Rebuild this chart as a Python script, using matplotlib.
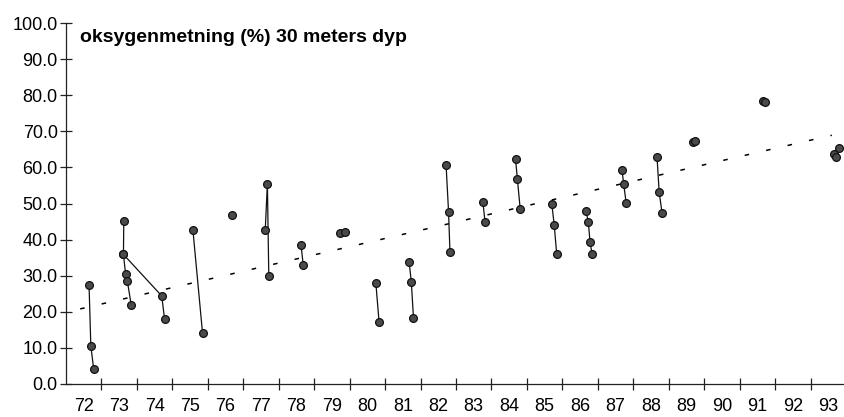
import matplotlib
matplotlib.use("Agg")
import matplotlib.pyplot as plt
from matplotlib.ticker import FixedLocator, FixedFormatter

plt.rcParams['font.family'] = ['Liberation Sans', 'DejaVu Sans']

# ---- data: each series is a connected group of measurements (fractional year, %)
x72 = [72.65, 72.70, 72.78];               y72 = [27.5, 10.6, 4.2]
x73 = [73.63, 73.62, 73.68, 73.73, 73.84]; y73 = [45.2, 35.9, 30.5, 28.5, 21.9]
x74 = [73.62, 74.70, 74.78];               y74 = [35.9, 24.4, 18.0]
x75 = [75.58, 75.85];                      y75 = [42.6, 14.2]
x76 = [76.67];                             y76 = [46.7]
x77 = [77.62, 77.68, 77.72];               y77 = [42.7, 55.5, 29.8]
x78 = [78.63, 78.69];                      y78 = [38.5, 33.0]
x79 = [79.72, 79.86];                      y79 = [41.7, 42.0]
x80 = [80.74, 80.83];                      y80 = [27.9, 17.2]
x81 = [81.68, 81.74, 81.80];               y81 = [33.7, 28.2, 18.4]
x82 = [82.72, 82.79, 82.83];               y82 = [60.7, 47.7, 36.5]
x83 = [83.76, 83.82];                      y83 = [50.3, 44.8]
x84 = [84.68, 84.73, 84.81];               y84 = [62.2, 56.9, 48.6]
x85 = [85.70, 85.77, 85.84];               y85 = [50.0, 44.1, 36.0]
x86 = [86.67, 86.73, 86.78, 86.84];        y86 = [47.8, 45.0, 39.4, 35.9]
x87 = [87.68, 87.73, 87.80];               y87 = [59.4, 55.4, 50.1]
x88 = [88.67, 88.73, 88.81];               y88 = [62.9, 53.2, 47.5]
x89 = [89.69, 89.74];                      y89 = [67.0, 67.3]
x91 = [91.65, 91.72];                      y91 = [78.3, 78.1]
x93 = [93.65, 93.72, 93.80];               y93 = [63.6, 62.9, 65.4]

trend_x = [72.4, 93.6]
trend_y = [20.8, 68.9]

year_labels = [str(y) for y in range(72, 94)]
y_ticks = [0, 10, 20, 30, 40, 50, 60, 70, 80, 90, 100]

title = "oksygenmetning (%) 30 meters dyp"

series = [(x72, y72), (x73, y73), (x74, y74), (x75, y75), (x76, y76), (x77, y77),
          (x78, y78), (x79, y79), (x80, y80), (x81, y81), (x82, y82), (x83, y83),
          (x84, y84), (x85, y85), (x86, y86), (x87, y87), (x88, y88), (x89, y89),
          (x91, y91), (x93, y93)]

fig = plt.figure(figsize=(8.45, 4.17), dpi=100)
ax = fig.add_axes([66 / 845, 33 / 417, 780 / 845, 361 / 417])
ax.set_xlim(72, 94)
ax.set_ylim(0, 100)

ax.plot(trend_x, trend_y, color='black', lw=1.1, linestyle=(0, (3.0, 11.4)), zorder=1)

for xs, ys in series:
    ax.plot(xs, ys, color='#111111', lw=0.9, marker='o', markersize=5.6,
            markerfacecolor='#4a4a4a', markeredgecolor='#111111', markeredgewidth=0.9,
            zorder=3)

for s in ['top', 'right']:
    ax.spines[s].set_visible(False)
for s in ['left', 'bottom']:
    ax.spines[s].set_color('#222222')
    ax.spines[s].set_linewidth(0.9)

ax.set_yticks(y_ticks)
ax.set_yticklabels([f"{v:.1f}" for v in y_ticks])
ax.tick_params(axis='y', direction='inout', length=8, width=0.9, color='#222222',
               labelsize=13, pad=2)

n_years = len(year_labels)
ax.xaxis.set_major_locator(FixedLocator([72 + i for i in range(1, n_years)]))
ax.xaxis.set_major_formatter(FixedFormatter([''] * (n_years - 1)))
ax.xaxis.set_minor_locator(FixedLocator([72.5 + i for i in range(n_years)]))
ax.xaxis.set_minor_formatter(FixedFormatter(year_labels))
ax.tick_params(axis='x', which='major', direction='inout', length=8, width=0.9,
               color='#222222')
ax.tick_params(axis='x', which='minor', length=0, labelsize=13, pad=10)

fig.text(80 / 845, 1 - 38 / 417, title, fontsize=14, fontweight='bold', va='center',
         ha='left')

fig.savefig("out.png", dpi=100)
